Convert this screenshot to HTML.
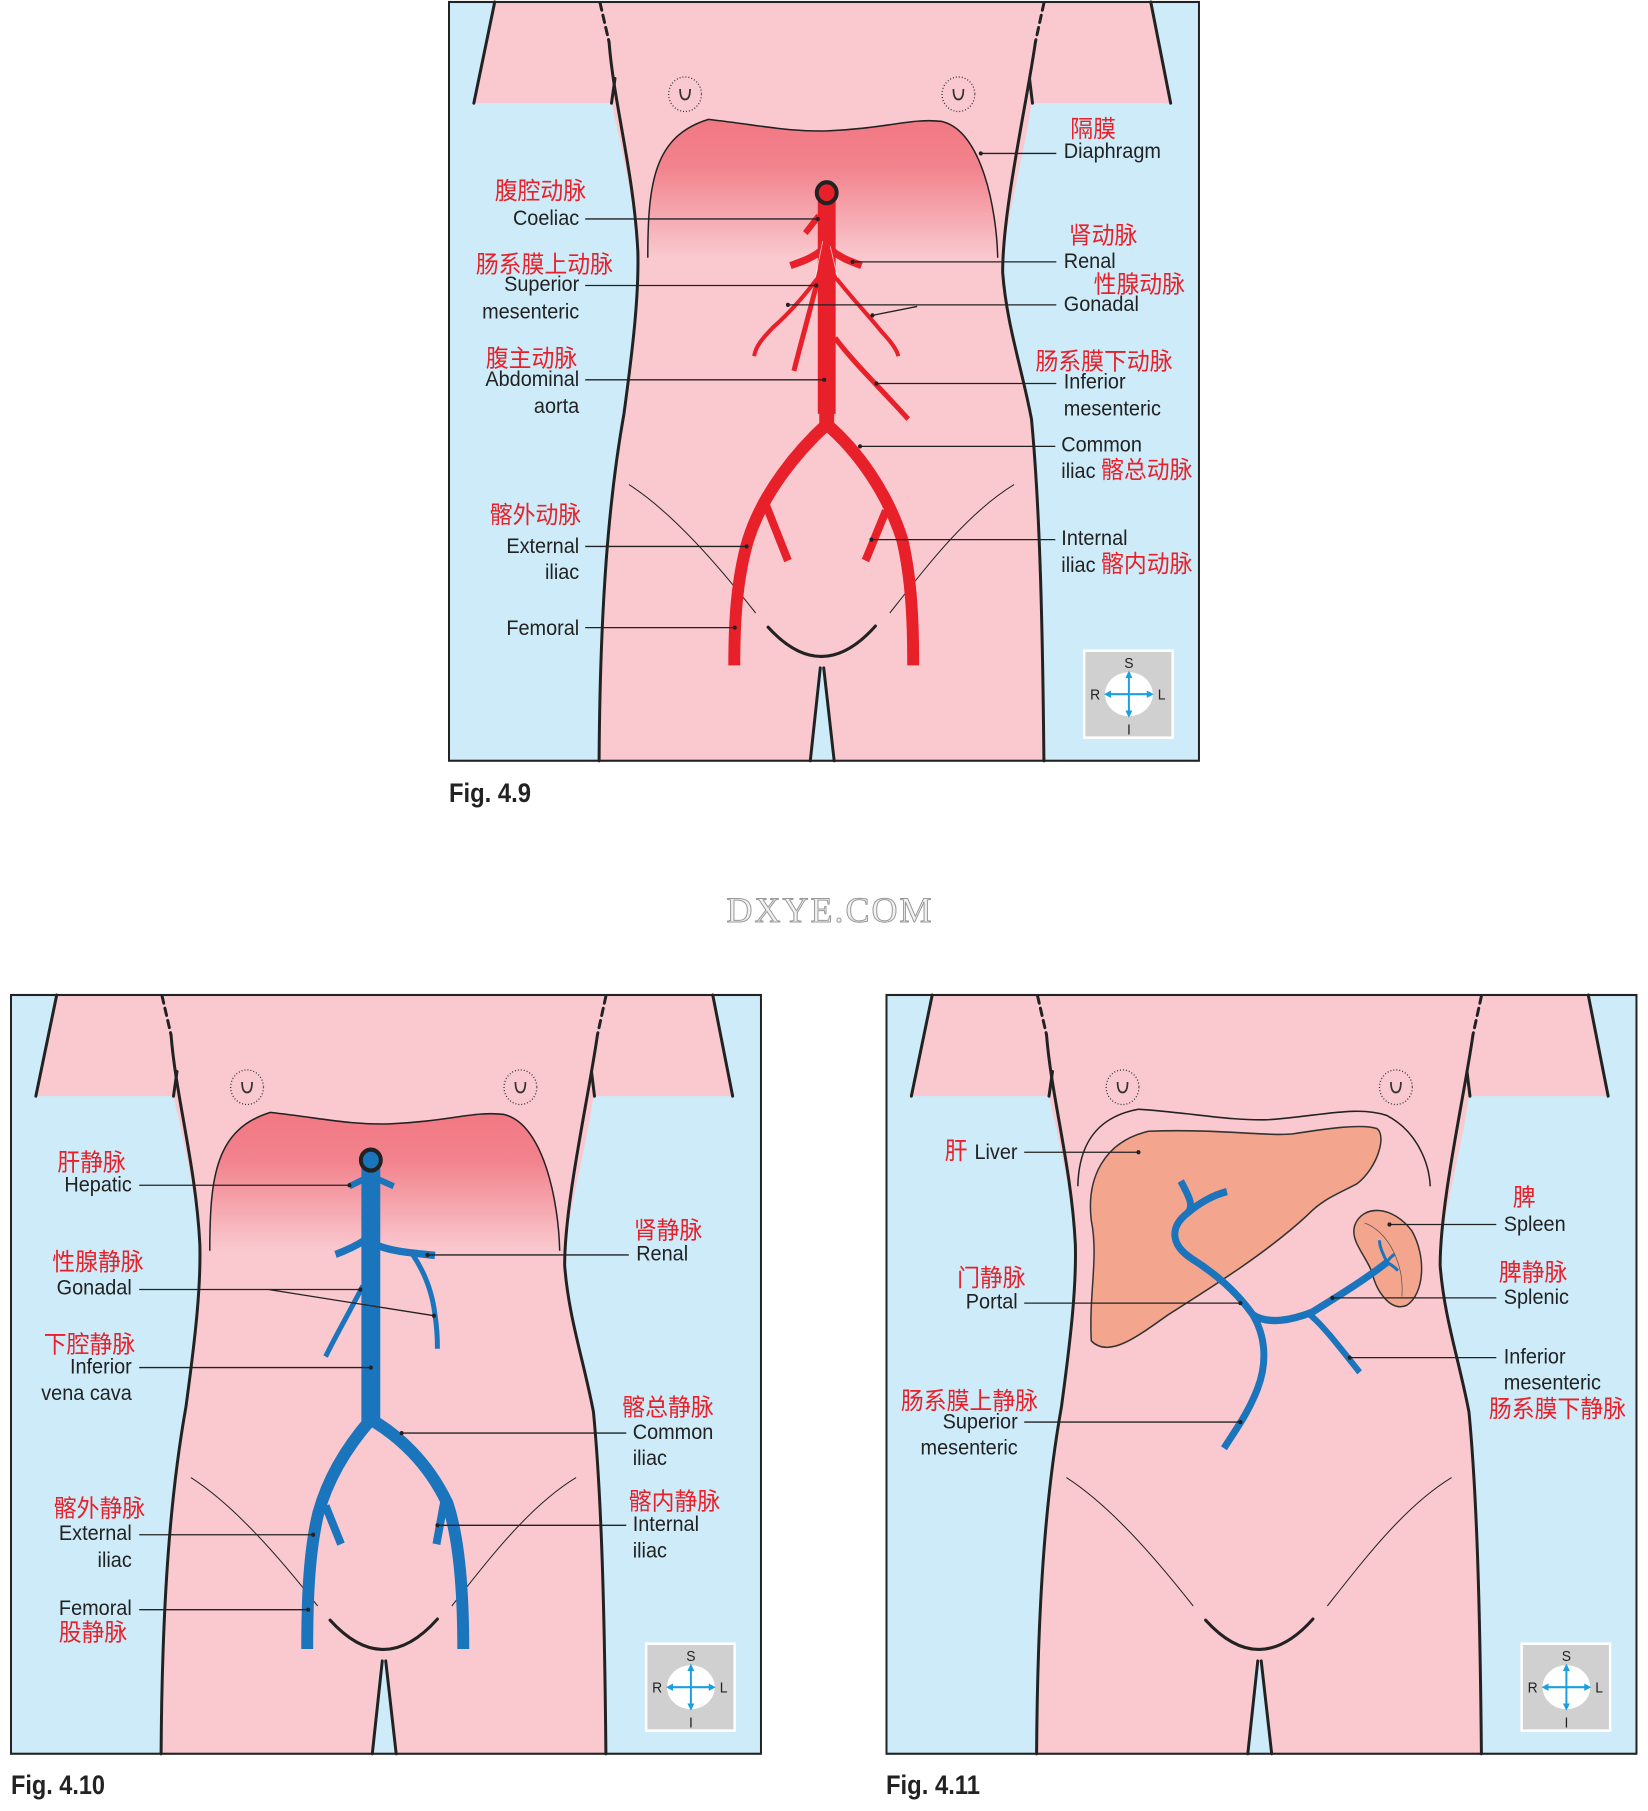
<!DOCTYPE html>
<html><head><meta charset="utf-8"><style>
html,body{margin:0;padding:0;background:#fff}
svg{display:block}
.en{font-family:"Liberation Sans","Noto Sans CJK SC",sans-serif;font-size:40px;fill:#222}
.cn{font-family:"Liberation Sans","Noto Sans CJK SC",sans-serif;font-size:46px;fill:#e8202a}
.r{text-anchor:end}
.ld{stroke:#222;stroke-width:2.5;fill:none}
.art{stroke:#e8202a;fill:none;stroke-linecap:butt;stroke-linejoin:round}
.vein{stroke:#1b75bc;fill:none;stroke-linecap:butt;stroke-linejoin:round}
.fig{font-family:"Liberation Sans Narrow","Liberation Sans",sans-serif;font-weight:bold;font-size:27px;fill:#222}
</style></head><body>
<svg width="1648" height="1811" viewBox="0 0 1648 1811" xmlns="http://www.w3.org/2000/svg">
<defs>
<linearGradient id="dg" x1="0" y1="0" x2="0" y2="1">
<stop offset="0" stop-color="#f17883"/><stop offset="0.35" stop-color="#f2838d"/><stop offset="1" stop-color="#f9c9cf"/>
</linearGradient>
<g id="body">
<rect x="18" y="4" width="1509" height="1448" fill="#cdebf8"/>
<path d="M110,4 L1430,4 L1470,197 L1190,197 C1175,300 1130,450 1132,520 C1140,620 1170,700 1190,800 C1205,950 1212,1150 1215,1452 L793,1452 L775,1275 L760,1275 L745,1452 L320,1452 C322,1150 340,950 370,790 C390,650 400,560 398,480 C390,380 360,260 345,197 L68,197 Z" fill="#f9c9cf"/>
<g stroke="#222" stroke-width="6" fill="none" stroke-linecap="round">
<path d="M110,4 L68,197"/><path d="M1430,4 L1470,197"/>
<path d="M322,6 L340,80" stroke-dasharray="14,10"/><path d="M1215,6 L1198,80" stroke-dasharray="14,10"/>
<path d="M340,80 C350,200 390,330 398,480 C400,560 390,650 370,790 C340,950 322,1150 320,1452"/>
<path d="M1198,80 C1180,200 1132,400 1132,520 C1140,620 1170,700 1190,800 C1205,950 1212,1150 1215,1452"/>
<path d="M352,150 L345,197"/><path d="M1186,150 L1192,197"/>
<path d="M765,1275 L745,1452"/><path d="M772,1275 L793,1452"/>
<path d="M660,1197 Q768,1310 876,1195"/>
</g>
<path d="M380,925 C470,980 560,1080 635,1170" stroke="#222" stroke-width="2" fill="none"/>
<path d="M1155,925 C1060,980 980,1080 905,1170" stroke="#222" stroke-width="2" fill="none"/>
<g stroke="#333" stroke-width="2.5" fill="none">
<circle cx="493" cy="180" r="33" stroke-dasharray="2,4"/><path d="M483,170 Q483,190 493,190 Q503,190 503,170" stroke-width="3.5"/>
<circle cx="1043" cy="180" r="33" stroke-dasharray="2,4"/><path d="M1033,170 Q1033,190 1043,190 Q1053,190 1053,170" stroke-width="3.5"/>
</g>
<rect x="1296" y="1242" width="178" height="166" fill="#d0d0d0" stroke="#fff" stroke-width="5"/>
<ellipse cx="1386" cy="1325" rx="48" ry="42" fill="#fff"/>
<g stroke="#1aa0e0" stroke-width="4" fill="#1aa0e0">
<line x1="1386" y1="1290" x2="1386" y2="1360"/><line x1="1346" y1="1325" x2="1426" y2="1325"/>
<path d="M1386,1280 l-7,14 h14z M1386,1370 l-7,-14 h14z M1336,1325 l14,-7 v14z M1436,1325 l-14,-7 v14z" stroke="none"/>
</g>
<g font-family="Liberation Sans,sans-serif" font-size="28" fill="#222" text-anchor="middle">
<text x="1386" y="1275">S</text><text x="1318" y="1335">R</text><text x="1452" y="1335">L</text><text x="1386" y="1402">I</text>
</g>
<rect x="18" y="4" width="1509" height="1448" fill="none" stroke="#222" stroke-width="4"/>
</g>
<path id="dia" d="M418,492 C418,350 430,260 540,228 C650,240 700,252 780,250 C900,245 950,225 1010,232 C1090,250 1120,400 1122,492" fill="url(#dg)" stroke="#222" stroke-width="3"/>
</defs>

<!-- FIG 4.9 -->
<g transform="translate(440.05,-0.1) scale(0.497,0.524)">
<use href="#body"/><use href="#dia"/>
<g class="art">
<path d="M652,955 L700,1070" stroke-width="16"/>
<path d="M897,975 L856,1070" stroke-width="16"/>
<path d="M778,810 C720,860 650,940 620,1030 C595,1110 592,1200 592,1270" stroke-width="24"/>
<path d="M778,810 C840,860 900,940 930,1030 C950,1110 952,1200 952,1270" stroke-width="24"/>
<path d="M778,370 L778,790" stroke-width="36"/>
<path d="M778,770 L778,815" stroke-width="30"/>
<path d="M762,412 L735,445" stroke-width="12"/>
<path d="M768,478 C745,495 725,500 705,507" stroke-width="14"/>
<path d="M788,478 C810,495 830,500 848,507" stroke-width="14"/>
<path d="M768,520 C730,570 700,600 670,625 C650,645 635,660 632,680" stroke-width="8"/>
<path d="M788,520 C820,560 860,600 890,635 C910,655 920,670 922,680" stroke-width="8"/>
<path d="M775,475 C760,540 730,640 712,708" stroke-width="10"/>
<path d="M795,645 C830,690 880,735 942,800" stroke-width="10"/>
</g>
<circle cx="778" cy="368" r="20" fill="#e8202a" stroke="#222" stroke-width="8"/>
<g stroke="#fff" stroke-width="1.5" fill="none" opacity="0.8"><path d="M770,460 L755,530"/><path d="M785,470 L800,530"/></g>
<g class="ld">
<path d="M292,418 H760"/><path d="M292,545 H757"/><path d="M700,582 H1240 M960,585 L870,602"/>
<path d="M292,725 H773"/><path d="M292,1043 H617"/><path d="M292,1198 H593"/>
<path d="M1088,293 H1240"/><path d="M830,500 H1240"/><path d="M878,732 H1240"/><path d="M845,852 H1238"/><path d="M868,1030 H1238"/>
</g>
<g fill="#222"><circle cx="760" cy="418" r="4"/><circle cx="757" cy="545" r="4"/><circle cx="700" cy="582" r="4"/><circle cx="870" cy="602" r="4"/><circle cx="773" cy="725" r="4"/><circle cx="617" cy="1043" r="4"/><circle cx="593" cy="1198" r="4"/><circle cx="1088" cy="293" r="4"/><circle cx="830" cy="500" r="4"/><circle cx="878" cy="732" r="4"/><circle cx="845" cy="852" r="4"/><circle cx="868" cy="1030" r="4"/></g>
<text class="cn" x="110" y="380">腹腔动脉</text>
<text class="en r" x="280" y="430">Coeliac</text>
<text class="cn" x="72" y="520">肠系膜上动脉</text>
<text class="en r" x="280" y="556">Superior</text>
<text class="en r" x="280" y="608">mesenteric</text>
<text class="cn" x="92" y="700">腹主动脉</text>
<text class="en r" x="280" y="737">Abdominal</text>
<text class="en r" x="280" y="788">aorta</text>
<text class="cn" x="100" y="998">髂外动脉</text>
<text class="en r" x="280" y="1056">External</text>
<text class="en r" x="280" y="1105">iliac</text>
<text class="en r" x="280" y="1212">Femoral</text>
<text class="cn" x="1268" y="262">隔膜</text>
<text class="en" x="1255" y="302">Diaphragm</text>
<text class="cn" x="1265" y="465">肾动脉</text>
<text class="en" x="1255" y="512">Renal</text>
<text class="cn" x="1315" y="558">性腺动脉</text>
<text class="en" x="1255" y="594">Gonadal</text>
<text class="cn" x="1198" y="705">肠系膜下动脉</text>
<text class="en" x="1255" y="742">Inferior</text>
<text class="en" x="1255" y="793">mesenteric</text>
<text class="en" x="1250" y="862">Common</text>
<text class="en" x="1250" y="912">iliac <tspan style="fill:#e8202a;font-size:46px">髂总动脉</tspan></text>
<text class="en" x="1250" y="1040">Internal</text>
<text class="en" x="1250" y="1092">iliac <tspan style="fill:#e8202a;font-size:46px">髂内动脉</tspan></text>
</g>
<text class="fig" x="449" y="802" textLength="82" lengthAdjust="spacingAndGlyphs">Fig. 4.9</text>

<text x="830" y="922" text-anchor="middle" font-family="Liberation Serif,serif" font-size="36" fill="#f2f2f2" stroke="#999" stroke-width="1" letter-spacing="2">DXYE.COM</text>

<!-- FIG 4.10 -->
<g transform="translate(2.05,992.9) scale(0.497,0.524)"><use href="#body"/><use href="#dia"/></g>
<g transform="translate(0.07,979.3) scale(0.497,0.524)">
<g class="vein">
<path d="M655,1005 L686,1078" stroke-width="16"/>
<path d="M893,1000 L878,1078" stroke-width="16"/>
<path d="M746,840 C700,890 660,950 640,1020 C620,1100 618,1200 618,1278" stroke-width="24"/>
<path d="M746,840 C800,870 860,920 900,1000 C925,1070 932,1180 932,1278" stroke-width="24"/>
<path d="M746,345 L746,845" stroke-width="38"/>
<path d="M735,380 L703,395" stroke-width="12"/><path d="M757,380 L792,395" stroke-width="12"/>
<path d="M735,497 C715,510 695,518 675,525" stroke-width="14"/>
<path d="M757,507 C790,520 830,522 875,527" stroke-width="14"/>
<path d="M730,585 C700,640 670,690 655,720" stroke-width="10"/>
<path d="M830,525 C855,560 870,600 875,640 C880,670 880,690 880,705" stroke-width="10"/>
</g>
<circle cx="746" cy="345" r="20" fill="#1b75bc" stroke="#222" stroke-width="8"/>
<g class="ld">
<path d="M280,393 H703"/><path d="M280,592 H725 M540,592 L873,642"/><path d="M280,741 H746"/><path d="M280,1060 H630"/><path d="M280,1203 H620"/>
<path d="M860,526 H1265"/><path d="M808,866 H1260"/><path d="M880,1042 H1260"/>
</g>
<g fill="#222"><circle cx="703" cy="393" r="4"/><circle cx="725" cy="592" r="4"/><circle cx="873" cy="642" r="4"/><circle cx="746" cy="741" r="4"/><circle cx="630" cy="1060" r="4"/><circle cx="620" cy="1203" r="4"/><circle cx="860" cy="526" r="4"/><circle cx="808" cy="866" r="4"/><circle cx="880" cy="1042" r="4"/></g>
<text class="cn" x="115" y="365">肝静脉</text>
<text class="en r" x="265" y="405">Hepatic</text>
<text class="cn" x="105" y="555">性腺静脉</text>
<text class="en r" x="265" y="602">Gonadal</text>
<text class="cn" x="88" y="712">下腔静脉</text>
<text class="en r" x="265" y="752">Inferior</text>
<text class="en r" x="265" y="803">vena cava</text>
<text class="cn" x="108" y="1025">髂外静脉</text>
<text class="en r" x="265" y="1070">External</text>
<text class="en r" x="265" y="1122">iliac</text>
<text class="en r" x="265" y="1213">Femoral</text>
<text class="cn" x="118" y="1262">股静脉</text>
<text class="cn" x="1275" y="495">肾静脉</text>
<text class="en" x="1280" y="537">Renal</text>
<text class="cn" x="1252" y="832">髂总静脉</text>
<text class="en" x="1273" y="877">Common</text>
<text class="en" x="1273" y="927">iliac</text>
<text class="cn" x="1265" y="1012">髂内静脉</text>
<text class="en" x="1273" y="1053">Internal</text>
<text class="en" x="1273" y="1103">iliac</text>
</g>
<text class="fig" x="11" y="1794" textLength="94" lengthAdjust="spacingAndGlyphs">Fig. 4.10</text>

<!-- FIG 4.11 -->
<g transform="translate(877.55,992.9) scale(0.497,0.524)"><use href="#body"/></g>
<g transform="translate(870.1,979.3) scale(0.497,0.524)">
<path d="M418,395 C420,300 470,260 540,248 C650,255 720,270 800,268 C900,262 980,240 1040,260 C1100,290 1125,350 1127,395" fill="none" stroke="#222" stroke-width="3"/>
<path d="M445,690 C440,600 460,530 445,460 C435,380 470,310 560,290 C700,285 800,300 850,295 C920,285 990,275 1020,285 C1040,300 1020,360 980,390 C940,410 910,420 880,450 C800,520 700,580 600,640 C540,680 480,725 445,690 Z" fill="#f4a58e" stroke="#333" stroke-width="3"/>
<path d="M975,470 C990,430 1050,430 1090,480 C1120,530 1115,600 1080,622 C1050,635 1020,600 1010,560 C1000,530 965,500 975,470 Z" fill="#f4a58e" stroke="#333" stroke-width="3"/>
<path d="M995,465 C1040,480 1075,540 1070,605" fill="none" stroke="#555" stroke-width="1.5"/>
<g class="vein" stroke-width="14">
<path d="M625,385 C645,420 650,432 640,445 C605,470 600,505 650,535 C700,565 740,600 770,640 C800,660 850,650 890,635 C950,600 1000,570 1040,540"/>
<path d="M640,445 C665,425 690,412 718,405"/>
<path d="M770,640 C795,680 800,730 780,780 C760,830 735,860 712,895"/>
<path d="M885,640 C910,660 935,690 985,750" stroke-width="12"/>
<path d="M1040,540 C1030,520 1025,510 1025,498 M1040,540 C1048,545 1055,548 1062,556 M1040,540 C1045,532 1050,528 1055,525" stroke-width="6"/>
</g>
<g class="ld">
<path d="M310,330 H540"/><path d="M310,618 H745"/><path d="M310,845 H745"/>
<path d="M1045,468 H1260"/><path d="M930,608 H1260"/><path d="M965,722 H1260"/>
</g>
<g fill="#222"><circle cx="540" cy="330" r="4"/><circle cx="745" cy="618" r="4"/><circle cx="745" cy="845" r="4"/><circle cx="1045" cy="468" r="4"/><circle cx="930" cy="608" r="4"/><circle cx="965" cy="722" r="4"/></g>
<text class="cn" x="150" y="343">肝</text>
<text class="en" x="210" y="343">Liver</text>
<text class="cn" x="175" y="585">门静脉</text>
<text class="en r" x="297" y="628">Portal</text>
<text class="cn" x="62" y="820">肠系膜上静脉</text>
<text class="en r" x="297" y="857">Superior</text>
<text class="en r" x="297" y="907">mesenteric</text>
<text class="cn" x="1293" y="432">脾</text>
<text class="en" x="1275" y="480">Spleen</text>
<text class="cn" x="1265" y="575">脾静脉</text>
<text class="en" x="1275" y="620">Splenic</text>
<text class="en" x="1275" y="733">Inferior</text>
<text class="en" x="1275" y="783">mesenteric</text>
<text class="cn" x="1245" y="835">肠系膜下静脉</text>
</g>
<text class="fig" x="886" y="1794" textLength="94" lengthAdjust="spacingAndGlyphs">Fig. 4.11</text>
</svg>
</body></html>
